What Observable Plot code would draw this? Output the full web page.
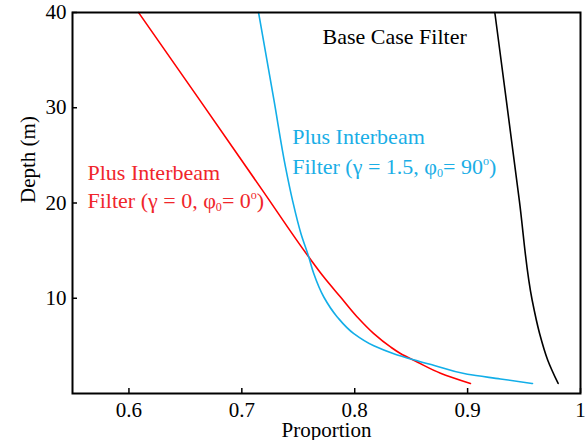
<!DOCTYPE html>
<html><head><meta charset="utf-8">
<script src="https://cdn.jsdelivr.net/npm/d3@7"></script>
<script src="https://cdn.jsdelivr.net/npm/@observablehq/plot@0.6"></script>
<style>
body{margin:0;background:#fff;}
#chart svg{overflow:visible;}
#chart svg, #chart svg text{font-family:"Liberation Serif","Times New Roman",serif !important;}
</style>
</head><body><div id="chart"></div>
<script>
// ---- data ----
const xTicks = [0.6, 0.7, 0.8, 0.9, 1];
const xTickLabels = ["0.6", "0.7", "0.8", "0.9", "1"];
const yTicks = [10, 20, 30, 40];

const baseDepth = [40, 30.77, 20.28, 9.79, 6.33, 3.5, 1.05];
const baseProp  = [0.9241, 0.9343, 0.9458, 0.9572, 0.9637, 0.9710, 0.9802];

const redDepth = [40, 30.77, 21.33, 14.33, 12.23, 10.13, 8.04, 6.29, 4.89, 4.2, 3.31, 2.13, 1.05];
const redProp  = [0.6085, 0.6629, 0.7183, 0.7593, 0.7726, 0.7874, 0.8022, 0.8169, 0.8317, 0.8405, 0.8553, 0.876, 0.9025];

const blueDepth = [40, 30.77, 23.77, 20.28, 16.78, 14.33, 12.59, 10.13, 8.04, 6.29, 5.01, 4.18, 3.55, 2.97, 2.02, 1.53, 1.05];
const blueProp  = [0.7148, 0.7285, 0.7387, 0.7449, 0.7524, 0.7593, 0.7637, 0.7726, 0.7845, 0.7992, 0.8169, 0.8346, 0.8521, 0.8698, 0.8999, 0.9291, 0.9575];

const seriesNames = ["Base Case Filter", "Plus Interbeam Filter (γ = 0, φ0= 0°)", "Plus Interbeam Filter (γ = 1.5, φ0= 90°)"];
const seriesColors = ["#000000", "#ff0000", "#12aee8"];

const labelBase = ["Base Case Filter"];
const labelRed  = ["Plus Interbeam", "Filter (γ = 0, φ0= 0o)"];
const labelBlue = ["Plus Interbeam", "Filter (γ = 1.5, φ0= 90o)"];

// ---- build table ----
const depths = [baseDepth, redDepth, blueDepth];
const props = [baseProp, redProp, blueProp];
const rows = seriesNames.flatMap((name, s) => depths[s].map((d, i) => ({series: name, depth: d, prop: props[s][i]})));

const plot = Plot.plot({
  width: 587,
  height: 440,
  marginLeft: 72,
  marginRight: 7,
  marginTop: 12,
  marginBottom: 47,
  style: "font-family:'Liberation Serif',serif;font-size:21px;background:#fff;color:#000;overflow:visible;",
  x: {domain: [0.55, 1.0]},
  y: {domain: [0, 40]},
  color: {domain: seriesNames, range: seriesColors},
  marks: [
    Plot.line(rows, {x: "prop", y: "depth", z: "series", stroke: "series", strokeWidth: 1.6, curve: "monotone-y"}),
    Plot.ruleX(xTicks, {x: d => d, insetTop: 376, stroke: "#000", strokeWidth: 1.5}),
    Plot.ruleY(yTicks, {y: d => d, insetRight: 503, stroke: "#000", strokeWidth: 1.5}),
    Plot.axisX({ticks: xTicks, tickFormat: d => xTickLabels[xTicks.indexOf(d)], tickSize: 0, tickPadding: 9, label: null, fontSize: 21}),
    Plot.axisY({ticks: yTicks, tickSize: 0, tickPadding: 6, label: null, fontSize: 21}),
    Plot.text(["Proportion"], {frameAnchor: "bottom", dy: 43, lineAnchor: "bottom", fontSize: 21}),
    Plot.text(["Depth (m)"], {frameAnchor: "left", rotate: -90, dx: -38, lineAnchor: "bottom", fontSize: 21}),
    Plot.text(labelBase, {x: 0.7715, y: 36.7, textAnchor: "start", lineAnchor: "bottom", fontSize: 22, fill: "#000"}),
    Plot.text([labelRed[0]], {x: 0.5633, y: 19.5, dy: -28, textAnchor: "start", lineAnchor: "bottom", fontSize: 22, fill: "#f0262b"}),
    Plot.text([labelRed[1]], {x: 0.5633, y: 19.5, textAnchor: "start", lineAnchor: "bottom", fontSize: 22, fill: "#f0262b"}),
    Plot.text([labelBlue[0]], {x: 0.7446, y: 23.0, dy: -30, textAnchor: "start", lineAnchor: "bottom", fontSize: 22, fill: "#1aaee6"}),
    Plot.text([labelBlue[1]], {x: 0.7446, y: 23.0, textAnchor: "start", lineAnchor: "bottom", fontSize: 22, fill: "#1aaee6"}),
    Plot.frame({stroke: "#000", strokeWidth: 2})
  ]
});

// subscript "0" after φ and superscript "o" (degree) in the annotation labels
plot.querySelectorAll("text").forEach(t => {
  const s = t.textContent;
  const m = s.match(/^(.*φ)0(= \d+)o(\))$/);
  if (!m) return;
  t.textContent = "";
  const add = (txt, attrs) => {
    const ts = document.createElementNS("http://www.w3.org/2000/svg", "tspan");
    ts.textContent = txt;
    for (const k in attrs) ts.setAttribute(k, attrs[k]);
    t.appendChild(ts);
  };
  add(m[1], {});
  add("0", {dy: 3, "font-size": "55%"});
  add(m[2], {dy: -3});
  add("o", {dy: -9, "font-size": "55%"});
  add(m[3], {dy: 9});
});

document.getElementById("chart").appendChild(plot);
</script>
</body></html>
